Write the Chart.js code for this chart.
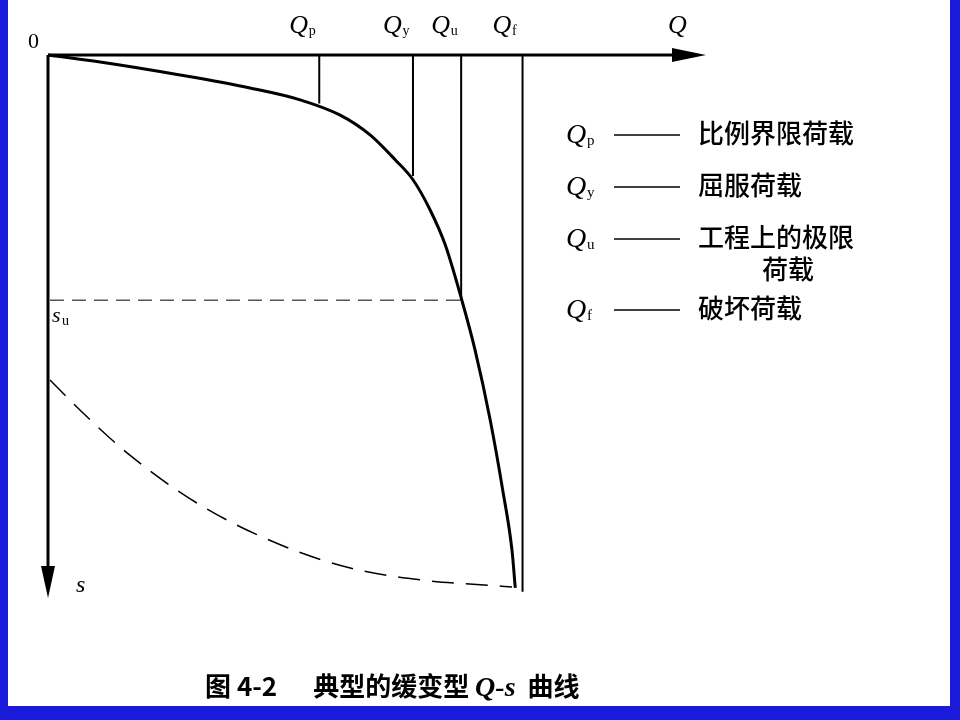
<!DOCTYPE html>
<html><head><meta charset="utf-8">
<script src="https://cdn.jsdelivr.net/npm/chart.js@4/dist/chart.umd.min.js"></script>
<style>body{margin:0;background:#1a1adb}canvas{display:block}</style>
</head><body>
<canvas id="c" width="960" height="720"></canvas>
<script>
// Q-s curve in abstract units (Q: load, s: settlement)
const curveQ = [0, 7.9, 20, 30.6, 38.2, 44.2, 48.8, 52.6, 55.3, 57.9, 60.2, 62.7, 64.7, 67, 68.9, 70.3, 70.8];
const curveS = [0, 1.3, 3.7, 6.1, 8.3, 11.1, 14.8, 19.4, 23.1, 28.7, 35.2, 45.4, 54.6, 67.6, 80.6, 91.7, 98.7];
const dashQ = [0.3, 4.8, 12.4, 23, 35.2, 45.8, 56.4, 65.5, 70.3];
const dashS = [60.2, 65.7, 74.1, 83.3, 90.7, 95, 97.2, 98.1, 98.5];
const markNames = ['p', 'y', 'u', 'f'];
const markQ = [41.1, 55.3, 62.6, 71.9];
const markS = [9, 22.4, 45.4, 99.4];
const suValue = 45.4;
const legendNames = ['p', 'y', 'u', 'f'];
const legendText = [['比例界限荷载'], ['屈服荷载'], ['工程上的极限', '荷载'], ['破坏荷载']];

const vlines = markQ.map((q, i) => ({
  data: [{x: q, y: 0}, {x: q, y: markS[i]}],
  borderColor: '#000', borderWidth: 2, pointRadius: 0
}));

const decor = {
  id: 'decor',
  beforeDraw(chart) {
    const c = chart.ctx;
    c.fillStyle = '#1a1adb'; c.fillRect(0, 0, 960, 720);
    c.fillStyle = '#fff'; c.fillRect(8, 0, 942, 706);
  },
  afterDraw(chart) {
    const c = chart.ctx, xs = chart.scales.x, ys = chart.scales.y;
    const ox = xs.getPixelForValue(0), oy = ys.getPixelForValue(0);
    c.save();
    c.strokeStyle = '#000'; c.fillStyle = '#000'; c.lineWidth = 3;
    c.beginPath(); c.moveTo(ox, oy); c.lineTo(690, oy); c.stroke();
    c.beginPath(); c.moveTo(ox, oy); c.lineTo(ox, 578); c.stroke();
    c.beginPath(); c.moveTo(706, oy); c.lineTo(672, oy - 7); c.lineTo(672, oy + 7); c.fill();
    c.beginPath(); c.moveTo(ox, 598); c.lineTo(ox - 7, 566); c.lineTo(ox + 7, 566); c.fill();
    const q = (sub, x, y, size) => {
      c.font = 'italic ' + size + 'px "Liberation Serif"';
      c.textAlign = 'left'; c.textBaseline = 'alphabetic';
      c.fillText('Q', x, y);
      c.font = Math.round(size * 0.55) + 'px "Liberation Serif"';
      c.fillText(sub, x + size * 0.75, y + 2);
    };
    markNames.forEach((n, i) => q(n, xs.getPixelForValue(markQ[i]) - 30, 33, 26));
    c.font = 'italic 26px "Liberation Serif"'; c.fillText('Q', 668, 33);
    c.font = '22px "Liberation Serif"'; c.fillText('0', 28, 48);
    c.font = 'italic 22px "Liberation Serif"'; c.fillText('s', 52, 322);
    c.font = '14px "Liberation Serif"'; c.fillText('u', 62, 325);
    c.font = 'italic 24px "Liberation Serif"'; c.fillText('s', 76, 592);
    const ly = [143, 195, 247, 318];
    legendNames.forEach((n, i) => {
      q(n, 566, ly[i], 28);
      c.lineWidth = 1.5;
      c.beginPath(); c.moveTo(614, ly[i] - 8); c.lineTo(680, ly[i] - 8); c.stroke();
      c.font = '500 26px "Noto Sans CJK SC"';
      c.fillText(legendText[i][0], 698, ly[i]);
      if (legendText[i][1]) c.fillText(legendText[i][1], 762, ly[i] + 32);
    });
    // caption
    let x = 205;
    const part = (t, f) => { c.font = f; c.fillText(t, x, 696); x += c.measureText(t).width; };
    part('图 4-2', 'bold 26px "Noto Sans CJK SC"');
    x += 36;
    part('典型的缓变型 ', 'bold 26px "Noto Sans CJK SC"');
    part('Q-s', 'italic bold 28px "Liberation Serif"');
    x += 12;
    part('曲线', 'bold 26px "Noto Sans CJK SC"');
    c.restore();
  }
};

new Chart(document.getElementById('c'), {
  type: 'line',
  data: {
    datasets: [
      {data: curveQ.map((v, i) => ({x: v, y: curveS[i]})), borderColor: '#000', borderWidth: 3, pointRadius: 0, cubicInterpolationMode: 'monotone'},
      {data: dashQ.map((v, i) => ({x: v, y: dashS[i]})), borderColor: '#000', borderWidth: 1.5, borderDash: [22, 12], pointRadius: 0, cubicInterpolationMode: 'monotone'},
      {data: [{x: 0.3, y: suValue}, {x: markQ[2], y: suValue}], borderColor: '#000', borderWidth: 1, borderDash: [14, 8], pointRadius: 0},
      ...vlines
    ]
  },
  options: {
    responsive: false, animation: false,
    layout: {padding: 0},
    plugins: {legend: {display: false}, tooltip: {enabled: false}},
    scales: {
      x: {type: 'linear', display: false, min: -48 / 6.6, max: 912 / 6.6},
      y: {type: 'linear', display: false, reverse: true, min: -55 / 5.4, max: 665 / 5.4}
    }
  },
  plugins: [decor]
});
</script>
</body></html>
